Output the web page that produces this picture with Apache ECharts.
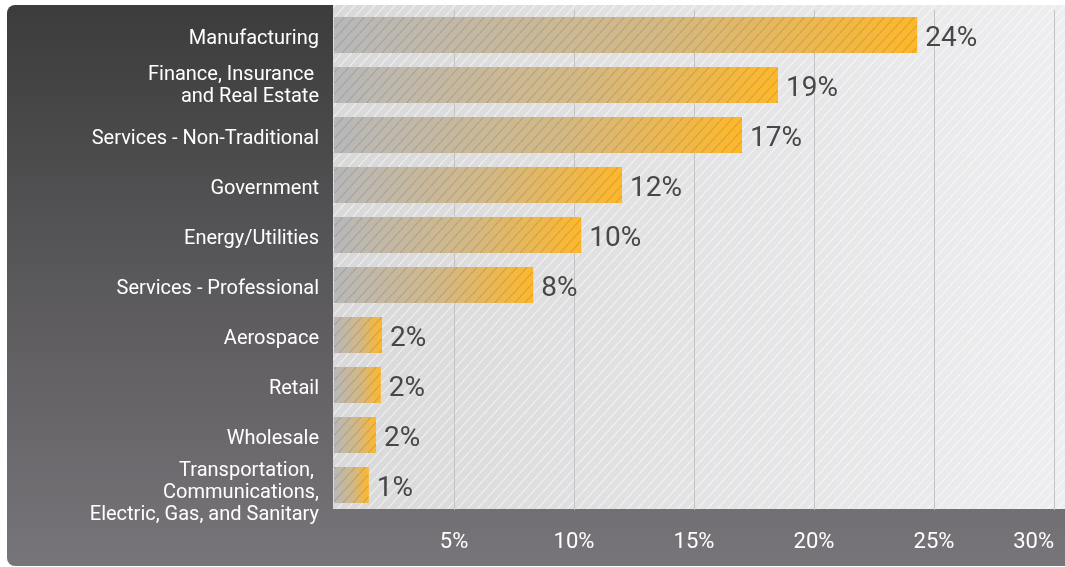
<!DOCTYPE html>
<html>
<head>
<meta charset="utf-8">
<script src="https://cdn.jsdelivr.net/npm/echarts@6/dist/echarts.min.js"></script>
<style>
  html, body { margin: 0; padding: 0; background: #ffffff; }
  #chart { width: 1065px; height: 567px; }
</style>
</head>
<body>
<div id="chart"></div>
<script>
// Industry shares (percent)
const categories = [
  'Manufacturing',
  'Finance, Insurance \nand Real Estate',
  'Services - Non-Traditional',
  'Government',
  'Energy/Utilities',
  'Services - Professional',
  'Aerospace',
  'Retail',
  'Wholesale',
  'Transportation, \nCommunications,\nElectric, Gas, and Sanitary'
];
const values = [24.3, 18.5, 17.0, 12.0, 10.3, 8.3, 2.0, 1.95, 1.75, 1.45];
const axisMax = 30;
const axisStep = 5;

const FONT = 'Roboto, "Noto Sans", sans-serif';

// Diagonal hatch tile, lines running from lower-left to upper-right
function makeHatch(w, h, color, lw) {
  const c = document.createElement('canvas');
  c.width = w; c.height = h;
  const ctx = c.getContext('2d');
  ctx.strokeStyle = color;
  ctx.lineWidth = lw;
  for (let k = -1; k <= 1; k++) {
    ctx.beginPath();
    ctx.moveTo(k * w, h);
    ctx.lineTo(k * w + w, 0);
    ctx.stroke();
  }
  return c;
}

const bgHatch = makeHatch(10, 11, 'rgba(255,255,255,0.6)', 1.1);
const barHatch = makeHatch(10, 11, 'rgba(80,80,80,0.22)', 1.1);

// Category label text: every line gets a top pad that nudges it down
const labelText = { color: '#ffffff', fontFamily: FONT, fontSize: 20, lineHeight: 22 };
function categoryLabel(name) {
  const lines = name.split('\n');
  const tag = lines.length === 1 ? 'one' : lines.length === 2 ? 'two' : 'three';
  return lines.map(l => `{${tag}|${l}}`).join('\n');
}

const chart = echarts.init(document.getElementById('chart'), null, { renderer: 'canvas' });

const option = {
  animation: false,
  graphic: [
    {
      type: 'rect', z: -100, silent: true,
      shape: { x: 7, y: 5, width: 1080, height: 561, r: 8 },
      style: {
        fill: new echarts.graphic.LinearGradient(0, 0, 0, 1, [
          { offset: 0, color: '#3c3c3c' },
          { offset: 1, color: '#78757a' }
        ])
      }
    },
    {
      type: 'rect', z: -99, silent: true,
      shape: { x: 333, y: 5, width: 740, height: 504 },
      style: {
        fill: new echarts.graphic.LinearGradient(0, 0, 1, 0, [
          { offset: 0, color: '#d9d9da' },
          { offset: 1, color: '#eeeef0' }
        ])
      }
    },
    {
      type: 'rect', z: -98, silent: true,
      shape: { x: 333, y: 5, width: 740, height: 504 },
      style: { fill: { image: bgHatch, repeat: 'repeat' } }
    }
  ],
  grid: { left: 334, top: 10, width: 720, bottom: 57, containLabel: false },
  xAxis: {
    type: 'value',
    min: 0, max: axisMax, interval: axisStep,
    axisLine: { show: false },
    axisTick: { show: false },
    splitLine: { show: true, showMinLine: false, lineStyle: { color: '#c3c3c5', width: 1 } },
    axisLabel: {
      color: '#ffffff', fontFamily: FONT, fontSize: 22, margin: 21,
      showMinLabel: false, alignMaxLabel: 'right',
      formatter: '{value}%'
    }
  },
  yAxis: {
    type: 'category',
    data: categories,
    inverse: true,
    axisLine: { show: false },
    axisTick: { show: false },
    splitLine: { show: false },
    axisLabel: {
      interval: 0,
      color: '#ffffff', fontFamily: FONT, fontSize: 20, lineHeight: 22,
      margin: 15, align: 'right',
      formatter: categoryLabel,
      rich: {
        one: Object.assign({ padding: [8, 0, 0, 0] }, labelText),
        two: Object.assign({ padding: [2, 0, 0, 0] }, labelText),
        three: Object.assign({ padding: [16, 0, 0, 0] }, labelText)
      }
    }
  },
  series: [
    {
      type: 'bar',
      data: values,
      barWidth: 36,
      z: 2,
      itemStyle: {
        color: new echarts.graphic.LinearGradient(0, 0, 1, 0, [
          { offset: 0, color: '#b8b8ba' },
          { offset: 0.55, color: '#d3b884' },
          { offset: 1, color: '#feb72a' }
        ])
      },
      label: {
        show: true, position: 'right', distance: 8, offset: [0, 4],
        color: '#474747', fontFamily: FONT, fontSize: 28,
        formatter: p => Math.round(p.value) + '%'
      }
    },
    {
      type: 'bar',
      data: values,
      barWidth: 36,
      barGap: '-100%',
      z: 3,
      silent: true,
      itemStyle: { color: { image: barHatch, repeat: 'repeat' } },
      label: { show: false }
    }
  ]
};

chart.setOption(option);
</script>
</body>
</html>
